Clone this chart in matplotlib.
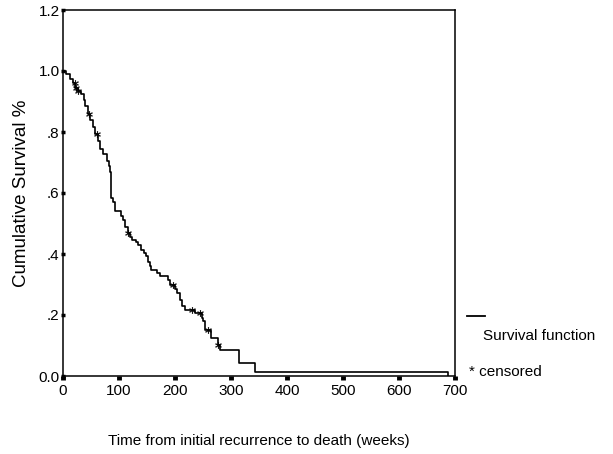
import numpy as np
import matplotlib
matplotlib.use('Agg')
import matplotlib.pyplot as plt

plt.rcParams['font.family'] = ['Liberation Sans', 'DejaVu Sans']

# Tempi (settimane) in cui la curva scende e sopravvivenza dopo il gradino
step_times = [0, 5, 12, 18, 22, 26, 33, 37, 40, 44, 48, 53, 57, 62, 66, 72,
              78, 82, 84, 86, 89, 93, 104, 108, 111, 116, 120, 123, 130, 134,
              140, 145, 149, 152, 156, 158, 167, 173, 188, 191, 200, 203, 209,
              212, 218, 235, 248, 250, 254, 265, 277, 280, 314, 343, 688]
survival = [1.0, 0.99, 0.975, 0.96, 0.945, 0.935, 0.924, 0.905, 0.886, 0.86,
            0.84, 0.815, 0.795, 0.77, 0.745, 0.728, 0.705, 0.688, 0.668, 0.585,
            0.572, 0.54, 0.524, 0.51, 0.49, 0.47, 0.457, 0.447, 0.438, 0.43,
            0.414, 0.403, 0.392, 0.375, 0.36, 0.349, 0.339, 0.327, 0.316, 0.30,
            0.286, 0.272, 0.25, 0.228, 0.217, 0.205, 0.19, 0.179, 0.151, 0.125,
            0.102, 0.086, 0.043, 0.014, 0.0]

# Osservazioni censurate
censored_times = [21, 24, 27, 46, 60, 116, 196, 230, 245, 259, 277]

x_ticks = [0, 100, 200, 300, 400, 500, 600, 700]
y_ticks = [0.0, 0.2, 0.4, 0.6, 0.8, 1.0, 1.2]
y_tick_labels = ['0.0', '.2', '.4', '.6', '.8', '1.0', '1.2']

fig = plt.figure(figsize=(6.13, 4.54), dpi=100)
ax = fig.add_axes([63 / 613, 1 - 376 / 454, (455 - 63) / 613, (376 - 10) / 454])

ax.step(step_times, survival, where='post', color='black', linewidth=1.2)

# valore della curva in corrispondenza delle censure
idx = np.searchsorted(step_times, censored_times, side='right') - 1
cens_y = np.array(survival)[idx]
ax.plot(censored_times, cens_y, linestyle='none', marker='$*$', color='black',
        markersize=4.5, markeredgewidth=0.3)

ax.set_xlim(0, 700)
ax.set_ylim(0, 1.2)
ax.set_xticks(x_ticks)
ax.set_yticks(y_ticks)
ax.set_yticklabels(y_tick_labels)

ax.tick_params(axis='x', direction='out', length=3, width=3.5, labelsize=11, pad=3)
ax.tick_params(axis='y', direction='inout', length=3, width=2.5, labelsize=11, pad=1)

for s in ax.spines.values():
    s.set_linewidth(1.1)

ax.set_ylabel('Cumulative Survival %', fontsize=13.5, labelpad=6)
ax.set_xlabel('Time from initial recurrence to death (weeks)', fontsize=11, labelpad=26)

# legenda stile SPSS
fig.add_artist(plt.Line2D([467 / 613, 485 / 613], [1 - 316 / 454, 1 - 316 / 454],
                          color='black', linewidth=1.3))
fig.text(483 / 613, 1 - 336 / 454, 'Survival function', fontsize=11, va='center', ha='left')
fig.text(469 / 613, 1 - 372 / 454, '* censored', fontsize=11, va='center', ha='left')

plt.savefig('out.png', dpi=100)
